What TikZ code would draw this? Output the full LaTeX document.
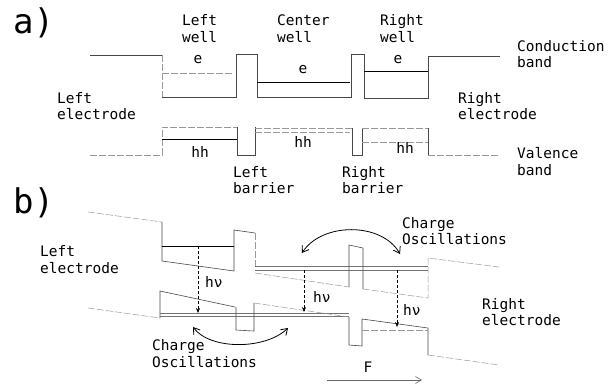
\documentclass[tikz,border=0pt]{standalone}
\usepackage{fontspec}
\newfontfamily\lab{DejaVu Sans Mono}
\usetikzlibrary{arrows.meta}
\tikzset{
  lbl/.style={font=\lab\fontsize{14.5}{16.5}\selectfont, inner sep=0pt, anchor=base west},
  lblc/.style={font=\lab\fontsize{14.5}{16.5}\selectfont, inner sep=0pt, anchor=base},
  big/.style={font=\lab\fontsize{34}{36}\selectfont, inner sep=0pt, anchor=base west},
  edge/.style={draw=black!72, line width=0.6pt},
  faint/.style={draw=black!40, line width=0.5pt, dash pattern=on 7pt off 2pt},
  lvl/.style={draw=black, line width=0.75pt},
  glvl/.style={draw=black!55, line width=0.6pt},
  hnu/.style={draw=black, line width=0.6pt, dash pattern=on 3pt off 2pt, -{Stealth[length=5pt,width=4pt]}},
  osc/.style={draw=black, line width=0.8pt, {Straight Barb[length=6pt,width=8pt]}-{Straight Barb[length=6pt,width=8pt]}},
}
\begin{document}
\begin{tikzpicture}[x=1pt,y=-1pt]
\useasboundingbox (0,0) rectangle (613,384);
% ---------- panel a ----------
\node[big] (la) at (13,33) {a)};
% conduction band
\draw[edge] (90,55) -- (162,55);
\draw[faint] (162,55) -- (162,97);
\draw[edge] (162,97) -- (236,97) -- (236,54) -- (257,54) -- (257,97) -- (351,97) -- (351,54) -- (364,54) -- (364,98) -- (428,98) -- (428,56) -- (500,56);
\draw[faint] (162,73) -- (233,73);
\draw[lvl] (257,82) -- (350,82);
\draw[lvl] (364,71) -- (428,71);
% valence band
\draw[faint] (90,155) -- (162,155) -- (162,127) -- (237,127);
\draw[lvl] (162,139) -- (237,139);
\draw[edge] (237,127) -- (237,155) -- (255,155) -- (255,127);
\draw[faint] (255,128) -- (352,128);
\draw[faint] (255,132) -- (350,132);
\draw[edge] (352,128) -- (352,155) -- (362,155) -- (362,128);
\draw[faint] (362,128) -- (428,128);
\draw[faint] (362,142) -- (428,142);
\draw[edge] (428,128) -- (428,155);
\draw[faint] (428,155) -- (500,155);
% labels a
\node[lbl] (lw1) at (182,25) {Left};
\node[lbl] (lw2) at (182,42) {well};
\node[lbl] (cw1) at (277,25) {Center};
\node[lbl] (cw2) at (277,42) {well};
\node[lbl] (rw1) at (380,25) {Right};
\node[lbl] (rw2) at (380,42) {well};
\node[lbl] (cb1) at (517,51) {Conduction};
\node[lbl] (cb2) at (517,67) {band};
\node[lbl] (le1) at (57,103) {Left};
\node[lbl] (le2) at (57,119) {electrode};
\node[lbl] (re1) at (458,103) {Right};
\node[lbl] (re2) at (458,119) {electrode};
\node[lbl] (vb1) at (517,158) {Valence};
\node[lbl] (vb2) at (517,175) {band};
\node[lbl] (lb1) at (233,177) {Left};
\node[lbl] (lb2) at (233,193) {barrier};
\node[lbl] (rb1) at (342,177) {Right};
\node[lbl] (rb2) at (342,193) {barrier};
\node[lblc] (e1) at (198,63) {e};
\node[lblc] (e2) at (303,73) {e};
\node[lblc] (e3) at (398,63) {e};
\node[lblc] (h1) at (200,157) {hh};
\node[lblc] (h2) at (303,147) {hh};
\node[lblc] (h3) at (405,153) {hh};
% ---------- panel b ----------
\node[big] (lbp) at (13,213) {b)};
% conduction band
\draw[faint] (88,212) -- (162,222);
\draw[edge] (162,222) -- (162,261) -- (234,271) -- (234,230) -- (255,233);
\draw[lvl] (162,246) -- (234,246);
\draw[faint] (255,233) -- (255,268);
\draw[glvl] (255,266) -- (428,266);
\draw[glvl] (255,270) -- (428,270);
\draw[faint] (255,273) -- (349,287);
\draw[edge] (349,287) -- (349,245) -- (363,248) -- (363,289);
\draw[faint] (363,289) -- (428,298) -- (428,258) -- (499,267);
% valence band
\draw[faint] (88,308) -- (160,318);
\draw[edge] (160,318) -- (160,291) -- (235,307);
\draw[glvl] (160,313) -- (349,313);
\draw[glvl] (160,316) -- (349,316);
\draw[edge] (236,307) -- (236,330) -- (254,331) -- (254,303);
\draw[faint] (254,303) -- (349,317);
\draw[edge] (349,317) -- (349,345) -- (362,346) -- (362,319) -- (428,328) -- (428,355);
\draw[faint] (362,330) -- (428,330);
\draw[faint] (428,355) -- (499,365);
% transitions
\coordinate (t1a) at (198,246); \coordinate (t1b) at (198,313);
\coordinate (t2a) at (304,270); \coordinate (t2b) at (304,312);
\coordinate (t3a) at (397,270); \coordinate (t3b) at (397,327);
\draw[hnu] (t1a) -- (t1b);
\draw[hnu] (t2a) -- (t2b);
\draw[hnu] (t3a) -- (t3b);
\node[lbl] (hv1) at (205,287) {hν};
\node[lbl] (hv2) at (313,302) {hν};
\node[lbl] (hv3) at (403,315) {hν};
% charge oscillations
\coordinate (o1a) at (302,253); \coordinate (o1b) at (400,254);
\draw[osc] (o1a) .. controls (322,222) and (382,222) .. (o1b);
\coordinate (o2a) at (193,327); \coordinate (o2b) at (288,328);
\draw[osc] (o2a) .. controls (210,350) and (265,350) .. (o2b);
\node[lbl] (co1) at (402,228) {Charge};
\node[lbl] (co2) at (402,244) {Oscillations};
\node[lbl] (co3) at (152,350) {Charge};
\node[lbl] (co4) at (152,367) {Oscillations};
\node[lbl] (bl1) at (40,256) {Left};
\node[lbl] (bl2) at (40,273) {electrode};
\node[lbl] (br1) at (482,309) {Right};
\node[lbl] (br2) at (482,325) {electrode};
% field
\node[lblc] (F) at (368,372) {F};
\coordinate (fa) at (327,380); \coordinate (fb) at (422,380);
\draw[draw=black!60, line width=0.6pt, -{Straight Barb[length=6pt,width=7pt]}] (fa) -- (fb);
\end{tikzpicture}
\end{document}
